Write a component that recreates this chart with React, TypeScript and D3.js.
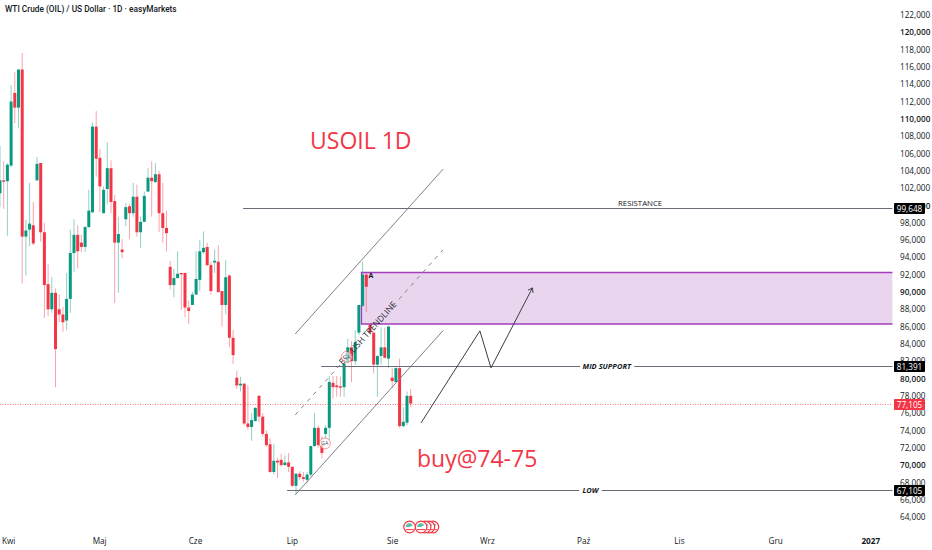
import * as d3 from "d3"
import { useEffect, useRef } from "react"

// prices are in thousands of USD, one entry per daily candle
const opens = [
  101.4, 102.9, 102.8, 104.6, 113.0, 111.3, 115.7, 96.4, 97.2, 97.7,
  102.9, 104.9, 96.9, 90.9, 88.0, 89.9, 88.0, 87.4, 86.7, 89.2,
  94.5, 96.6, 95.7, 95.2, 97.5, 99.2, 109.1, 105.5, 99.1, 101.9,
  104.3, 100.5, 95.7, 94.9, 98.4, 99.9, 99.1, 101.0, 96.9, 98.1,
  101.6, 103.2, 102.7, 103.6, 99.1, 97.4, 92.9, 90.8, 91.6, 92.2,
  92.2, 88.2, 88.5, 89.7, 91.4, 94.6, 95.2, 93.1, 93.4, 93.5,
  90.1, 88.5, 91.9, 84.7, 80.1, 79.2, 79.4, 74.8, 74.4, 75.1,
  78.0, 75.6, 73.6, 72.4, 69.2, 70.5, 70.6, 70.0, 70.3, 69.8,
  67.6, 69.0, 68.6, 68.3, 68.9, 72.2, 74.3, 72.3, 73.6, 74.3,
  79.5, 79.2, 79.1, 79.0, 81.9, 83.6, 82.0, 85.3, 88.4, 92.0,
  86.2, 85.3, 81.6, 82.6, 83.6, 82.3, 80.1, 79.6, 81.2, 74.5,
  74.9, 78.0,
]
const highs = [
  106.9, 105.1, 104.9, 113.9, 115.4, 115.7, 117.6, 98.3, 102.6, 100.4,
  105.6, 104.9, 98.0, 93.2, 91.7, 90.4, 89.7, 88.3, 92.2, 97.2,
  98.4, 97.7, 96.6, 97.6, 101.8, 109.6, 110.9, 106.5, 102.2, 107.3,
  105.2, 101.2, 98.7, 96.1, 100.3, 100.2, 102.6, 102.4, 98.7, 101.6,
  104.3, 105.1, 104.9, 104.0, 102.6, 99.4, 93.6, 92.7, 94.7, 92.2,
  92.2, 89.0, 90.0, 94.7, 96.0, 97.0, 95.7, 93.5, 94.9, 95.4,
  90.1, 93.7, 92.0, 85.6, 80.9, 80.2, 79.5, 79.2, 76.0, 76.7,
  78.1, 76.0, 74.0, 73.1, 72.4, 70.8, 71.3, 71.1, 71.4, 69.8,
  69.1, 69.3, 69.2, 69.2, 72.2, 76.0, 74.6, 73.3, 74.6, 80.3,
  80.3, 80.3, 80.2, 81.8, 84.6, 84.3, 85.6, 88.5, 93.5, 92.2,
  86.4, 85.3, 82.7, 85.9, 85.9, 86.1, 81.2, 81.3, 82.3, 76.7,
  78.5, 78.8,
]
const lows = [
  99.8, 99.6, 96.5, 104.4, 109.5, 108.9, 91.0, 91.9, 95.3, 95.4,
  102.8, 95.8, 87.0, 87.2, 87.6, 79.0, 86.5, 85.4, 85.6, 87.6,
  92.3, 92.7, 94.6, 94.6, 97.4, 99.2, 103.3, 99.2, 99.1, 100.2,
  99.1, 88.7, 89.9, 93.9, 97.6, 96.1, 98.7, 96.4, 95.1, 98.1,
  101.6, 98.7, 102.6, 96.9, 95.7, 94.7, 90.3, 89.4, 91.6, 87.9,
  87.1, 86.3, 88.5, 89.7, 90.1, 94.4, 93.0, 89.7, 92.2, 89.9,
  86.0, 87.4, 83.6, 81.7, 78.8, 78.5, 74.6, 74.1, 72.8, 75.0,
  75.0, 73.3, 72.1, 69.1, 68.9, 68.5, 69.8, 69.9, 69.2, 67.5,
  66.6, 68.3, 68.1, 67.9, 68.7, 72.1, 72.0, 70.8, 73.0, 72.9,
  77.7, 77.9, 77.9, 77.9, 81.8, 79.6, 81.6, 85.0, 88.3, 87.7,
  85.3, 80.6, 77.9, 81.6, 82.3, 81.2, 78.9, 79.5, 74.3, 74.4,
  74.6, 76.7,
]
const closes = [
  102.9, 102.8, 104.7, 112.0, 111.3, 115.7, 96.4, 97.1, 97.9, 95.6,
  104.8, 96.9, 90.8, 88.0, 89.9, 83.4, 87.4, 86.5, 89.2, 94.5,
  96.6, 94.7, 95.2, 97.5, 99.4, 109.1, 105.4, 102.2, 101.8, 104.3,
  100.4, 95.7, 96.7, 94.6, 99.8, 99.1, 101.0, 96.9, 98.1, 101.1,
  103.2, 102.8, 103.6, 99.1, 97.4, 96.8, 90.8, 91.6, 92.1, 92.1,
  88.2, 87.8, 89.7, 91.5, 94.7, 95.1, 93.1, 90.1, 93.6, 90.0,
  88.5, 91.7, 84.7, 82.7, 79.2, 79.4, 74.8, 74.4, 75.2, 76.6,
  75.6, 73.6, 72.3, 69.2, 70.5, 70.3, 70.0, 70.3, 69.8, 67.6,
  69.0, 68.6, 68.4, 68.9, 72.2, 74.3, 72.3, 71.4, 74.3, 79.6,
  79.0, 79.0, 79.0, 81.7, 83.6, 82.0, 84.2, 88.5, 92.0, 90.6,
  85.3, 81.6, 82.6, 83.6, 82.4, 86.0, 79.7, 81.2, 74.5, 75.0,
  78.0, 77.105,
]

const priceTicks = d3.range(64, 123, 2)
const monthLabels = ["Kwi", "Maj", "Cze", "Lip", "Sie", "Wrz", "Paź", "Lis", "Gru", "2027"]
const monthCandles = [2.2, 26.8, 52.7, 78.9, 106, 131.6, 157.6, 183.5, 209.5, 235.2]

const lastPrice = 77.105
const zoneTop = 92.25
const zoneBottom = 86.3
const zoneStart = 97.7
const axisEdge = 241.2

// horizontal levels: price, first candle, label, gap around the label in candles
const levelNames = ["RESISTANCE", "MID SUPPORT", "LOW"]
const levelPrices = [99.648, 81.391, 67.105]
const levelStarts = [65.7, 86.8, 77.6]
const levelGapFrom = [0, 156.8, 156.5]
const levelGapTo = [0, 171.4, 162.6]
const levelLabelAt = [173, 164, 159.6]

// channel, as [candle, price] ends
const channelUpper = [[79.8, 85.15], [119.8, 104.21]]
const channelLower = [[79.8, 66.56], [119.8, 85.56]]
const channelMidA = [[79.8, 75.8], [93.2, 82.18]]
const channelMidB = [[106.2, 88.38], [119.7, 94.86]]
const trendLabelAt = [99.5, 85.2]

const projection = [[113.8, 74.88], [129.7, 85.5], [132.7, 81.23], [143.9, 90.47]]
const eventCandles = [117, 115.9, 114.9, 113.8, 110.7]
const markers = [[87.8, 72.5], [93.7, 82.5]]

const width = 932
const height = 550
const fontFamily = "'Open Sans', sans-serif"
const up = "#089981"
const down = "#f23645"
const lineGray = "#7f8289"

export default function App() {
  const svgRef = useRef<SVGSVGElement>(null)

  useEffect(() => {
    if (!svgRef.current) return
    const svg = d3.select(svgRef.current)
    svg.selectAll("*").remove()

    const x = d3.scaleLinear().domain([0, 111]).range([0, 410.7])
    const y = d3.scaleLinear().domain([64, 122]).range([517, 15])
    const chartRight = x(axisEdge)
    const line = d3
      .line<number[]>()
      .x((d) => x(d[0]))
      .y((d) => y(d[1]))

    // Zone
    svg
      .append("rect")
      .attr("x", x(zoneStart))
      .attr("y", y(zoneTop))
      .attr("width", chartRight - x(zoneStart))
      .attr("height", y(zoneBottom) - y(zoneTop))
      .attr("fill", "#ead5ef")
    svg
      .append("path")
      .attr("fill", "none")
      .attr("stroke", "#a53cc0")
      .attr("stroke-width", 1.3)
      .attr(
        "d",
        line([
          [axisEdge, zoneTop],
          [zoneStart, zoneTop],
          [zoneStart, zoneBottom],
          [axisEdge, zoneBottom],
        ]),
      )

    // Last price line
    const lastY = Math.round(y(lastPrice)) + 0.5
    svg
      .append("line")
      .attr("x1", 0)
      .attr("x2", chartRight)
      .attr("y1", lastY)
      .attr("y2", lastY)
      .attr("stroke", "#f7747f")
      .attr("stroke-dasharray", "1 1.5")

    // Candles
    const candles = svg.append("g")
    opens.forEach((open, i) => {
      const color = closes[i] >= open ? up : down
      candles
        .append("line")
        .attr("x1", x(i))
        .attr("x2", x(i))
        .attr("y1", y(highs[i]))
        .attr("y2", y(lows[i]))
        .attr("stroke", color)
        .attr("stroke-opacity", 0.45)
        .attr("stroke-width", 1)
      const top = y(Math.max(open, closes[i]))
      const bottom = y(Math.min(open, closes[i]))
      candles
        .append("rect")
        .attr("x", x(i) - 1.5)
        .attr("y", top)
        .attr("width", 3)
        .attr("height", Math.max(bottom - top, 1.4))
        .attr("fill", color)
    })

    // Channel
    ;[channelUpper, channelLower, channelMidA, channelMidB].forEach((pts, i) => {
      svg
        .append("path")
        .attr("d", line(pts))
        .attr("fill", "none")
        .attr("stroke", lineGray)
        .attr("stroke-width", 1)
        .attr("stroke-dasharray", i > 1 ? "4 5" : null)
    })
    svg
      .append("text")
      .attr("transform", `translate(${x(trendLabelAt[0])},${y(trendLabelAt[1])}) rotate(-48)`)
      .attr("text-anchor", "middle")
      .attr("dominant-baseline", "middle")
      .attr("font-family", fontFamily)
      .attr("font-size", 8.5)
      .attr("fill", "#2a2e39")
      .text("BULLISH TRENDLINE")

    // Levels
    levelNames.forEach((name, i) => {
      const levelY = Math.round(y(levelPrices[i])) + 0.5
      const pieces =
        levelGapTo[i] > 0
          ? [
              [levelStarts[i], levelGapFrom[i]],
              [levelGapTo[i], axisEdge],
            ]
          : [[levelStarts[i], axisEdge]]
      pieces.forEach((p) => {
        svg
          .append("line")
          .attr("x1", x(p[0]))
          .attr("x2", x(p[1]))
          .attr("y1", levelY)
          .attr("y2", levelY)
          .attr("stroke", "#6a6d78")
          .attr("stroke-width", 1)
      })
      svg
        .append("text")
        .attr("x", x(levelLabelAt[i]))
        .attr("y", i === 0 ? levelY - 2.5 : levelY + 2.5)
        .attr("text-anchor", "middle")
        .attr("font-family", fontFamily)
        .attr("font-size", i === 0 ? 7.8 : 7.5)
        .attr("font-style", i === 0 ? "normal" : "italic")
        .attr("font-weight", i === 0 ? 400 : 700)
        .attr("fill", "#131722")
        .text(name)
    })

    // Projected path
    svg
      .append("path")
      .attr("d", line(projection))
      .attr("fill", "none")
      .attr("stroke", "#3a3d46")
      .attr("stroke-width", 1)
    const [ax, ay] = projection[3]
    const [bx, by] = projection[2]
    const angle = Math.atan2(y(ay) - y(by), x(ax) - x(bx))
    ;[-1, 1].forEach((side) => {
      const a = angle + Math.PI + side * 0.6
      svg
        .append("line")
        .attr("x1", x(ax))
        .attr("y1", y(ay))
        .attr("x2", x(ax) + 5 * Math.cos(a))
        .attr("y2", y(ay) + 5 * Math.sin(a))
        .attr("stroke", "#3a3d46")
    })

    // "A" marker and the chart's small badges
    svg
      .append("text")
      .attr("x", x(zoneStart) + 7)
      .attr("y", y(zoneTop) + 5.5)
      .attr("font-family", fontFamily)
      .attr("font-size", 7)
      .attr("font-weight", 700)
      .attr("fill", "#131722")
      .text("A")
    markers.forEach((m) => {
      svg
        .append("circle")
        .attr("cx", x(m[0]))
        .attr("cy", y(m[1]))
        .attr("r", 5.5)
        .attr("fill", "#ffffff")
        .attr("fill-opacity", 0.6)
        .attr("stroke", down)
        .attr("stroke-opacity", 0.5)
      svg
        .append("text")
        .attr("x", x(m[0]))
        .attr("y", y(m[1]) + 2)
        .attr("text-anchor", "middle")
        .attr("font-family", fontFamily)
        .attr("font-size", 5.5)
        .attr("fill", "#50535e")
        .text("GA")
    })

    // Event flags under the candles
    eventCandles.forEach((c) => {
      const g = svg.append("g").attr("transform", `translate(${x(c)},527)`)
      g.append("circle").attr("r", 5.8).attr("fill", "#ffffff").attr("stroke", down).attr("stroke-width", 1.2)
      g.append("path")
        .attr("d", d3.arc()({ innerRadius: 0, outerRadius: 3.8, startAngle: -Math.PI / 2, endAngle: Math.PI / 3 }))
        .attr("fill", "#5dbfa9")
      g.append("line").attr("x1", -4).attr("x2", 4).attr("y1", 2.6).attr("y2", 2.6).attr("stroke", down)
    })

    // Title and big notes
    svg
      .append("text")
      .attr("x", 5)
      .attr("y", 12)
      .attr("font-family", "Roboto, sans-serif")
      .attr("font-size", 8.3)
      .attr("font-weight", 500)
      .attr("fill", "#131722")
      .text("WTI Crude (OIL) / US Dollar · 1D · easyMarkets")
    svg
      .append("text")
      .attr("x", 310)
      .attr("y", 149)
      .attr("font-family", fontFamily)
      .attr("font-size", 23)
      .attr("fill", down)
      .text("USOIL 1D")
    svg
      .append("text")
      .attr("x", 417)
      .attr("y", 467)
      .attr("font-family", fontFamily)
      .attr("font-size", 23)
      .attr("fill", down)
      .text("buy@74-75")

    // Price axis
    const yAxis = svg
      .append("g")
      .attr("transform", "translate(898,0)")
      .call(
        d3
          .axisRight(y)
          .tickValues(priceTicks)
          .tickSize(0)
          .tickPadding(2)
          .tickFormat((d) => d3.format(",")(Number(d) * 1000)),
      )
    yAxis.select(".domain").remove()
    yAxis
      .selectAll("text")
      .attr("font-family", fontFamily)
      .attr("font-size", 8.2)
      .attr("fill", "#131722")
      .attr("font-weight", (d) => (Number(d) % 10 === 0 ? 600 : 400))

    // Time axis
    const xAxis = svg
      .append("g")
      .attr("transform", "translate(0,535)")
      .call(
        d3
          .axisBottom(x)
          .tickValues(monthCandles)
          .tickSize(0)
          .tickPadding(3)
          .tickFormat((_, i) => monthLabels[i]),
      )
    xAxis.select(".domain").remove()
    xAxis
      .selectAll("text")
      .attr("font-family", fontFamily)
      .attr("font-size", 8.2)
      .attr("fill", "#131722")
      .attr("font-weight", (_, i) => (i === monthLabels.length - 1 ? 700 : 400))

    // Price tags on the axis
    const tagFormat = d3.format(",.0f")
    ;[...levelPrices, lastPrice].forEach((p, i) => {
      const tagY = Math.round(y(p)) + 0.5
      svg
        .append("rect")
        .attr("x", 894)
        .attr("y", tagY - 5.5)
        .attr("width", 31)
        .attr("height", 11)
        .attr("rx", 1)
        .attr("fill", i === 3 ? down : "#000000")
      svg
        .append("text")
        .attr("x", 909.5)
        .attr("y", tagY + 3)
        .attr("text-anchor", "middle")
        .attr("font-family", fontFamily)
        .attr("font-size", 8.2)
        .attr("fill", "#ffffff")
        .text(tagFormat(p * 1000))
    })
  }, [])

  return (
    <svg
      ref={svgRef}
      width={width}
      height={height}
      viewBox={`0 0 ${width} ${height}`}
      style={{ position: "absolute", left: 0, top: 0, background: "#ffffff" }}
    />
  )
}
